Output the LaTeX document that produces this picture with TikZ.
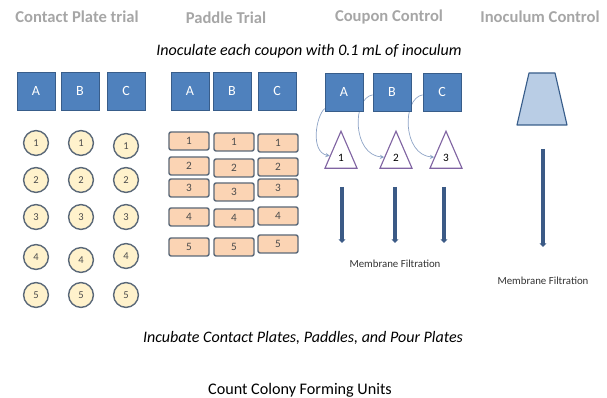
\documentclass[tikz,border=0pt]{standalone}
\usepackage{fontspec}
\setmainfont{Carlito}
\usetikzlibrary{shapes.geometric,arrows.meta,backgrounds}
\definecolor{sqfill}{HTML}{4F81BD}
\definecolor{sqline}{HTML}{385D8A}
\definecolor{platefill}{HTML}{FFF2CC}
\definecolor{paddlefill}{HTML}{FBD4B4}
\definecolor{rimline}{HTML}{5A6878}
\definecolor{triline}{HTML}{8064A2}
\definecolor{flowline}{HTML}{3B5A86}
\definecolor{curvline}{HTML}{8DA3C6}
\definecolor{trapfill}{HTML}{B9CDE5}
\definecolor{titlegray}{HTML}{A6A6A6}
\tikzset{
  title/.style={text=titlegray,font=\fontsize{11.8}{13}\selectfont\bfseries},
  note/.style={font=\fontsize{11.4}{13}\selectfont\itshape},
  sq/.style={draw=sqline,fill=sqfill,text=white,minimum size=0.95cm,inner sep=0pt,font=\fontsize{10}{12}\selectfont},
  plate/.style={draw=rimline,line width=1pt,circle,fill=platefill,minimum size=0.62cm,inner sep=0pt,text=black!70,font=\fontsize{7.5}{9}\selectfont},
  paddle/.style={draw=rimline,line width=1pt,rounded corners=1.5pt,fill=paddlefill,minimum width=1cm,minimum height=0.45cm,inner sep=0pt,text=black!70,font=\fontsize{8}{9}\selectfont},
  tri/.style={draw=triline,line width=0.8pt,isosceles triangle,isosceles triangle stretches,shape border rotate=90,minimum width=0.8cm,minimum height=0.925cm,inner sep=0pt,font=\fontsize{8}{9}\selectfont},
  flaskst/.style={draw=sqline,line width=0.8pt,fill=trapfill,line join=round},
  curv/.style={draw=curvline,line width=0.5pt,-{Stealth[length=3pt,width=3pt]}},
  flow/.style={draw=flowline,line width=2.6pt,-{Triangle[length=2.5pt,width=4.5pt]}},
  small/.style={font=\fontsize{7.7}{9}\selectfont,text=black!80}
}
\begin{document}
\begin{tikzpicture}[x=0.025cm,y=-0.025cm]
\useasboundingbox (0,0) rectangle (607,398);
% headings
\node[title](hcp)at(77,17){Contact Plate trial};
\node[title](hpd)at(226,18){Paddle Trial};
\node[title](hcc)at(389,17){Coupon Control};
\node[title](hic)at(540,17){Inoculum Control};
\node[note](inoc)at(309,51){Inoculate each coupon with 0.1 mL of inoculum};
% coupons
\node[sq](cpa)at(36,91){A};
\node[sq](cpb)at(80,91){B};
\node[sq](cpc)at(126,91){C};
\node[sq](pda)at(190,91){A};
\node[sq](pdb)at(232,91){B};
\node[sq](pdc)at(277,91){C};
\node[sq](cca)at(344,92){A};
\node[sq](ccb)at(392,92){B};
\node[sq](ccc)at(442,92){C};
% inoculum
\draw[flaskst](529,73)--(555,73)--(567,125)--(517,125)--cycle;
% contact plates
\node[plate](ca1)at(36,143){1};
\node[plate](cb1)at(81,143){1};
\node[plate](cc1)at(126,146){1};
\node[plate](ca2)at(36,180){2};
\node[plate](cb2)at(81,180){2};
\node[plate](cc2)at(126,180){2};
\node[plate](ca3)at(36,217){3};
\node[plate](cb3)at(81,217){3};
\node[plate](cc3)at(126,217){3};
\node[plate](ca4)at(36,257){4};
\node[plate](cb4)at(81,260){4};
\node[plate](cc4)at(126,256){4};
\node[plate](ca5)at(36,295){5};
\node[plate](cb5)at(81,295){5};
\node[plate](cc5)at(126,295){5};
% paddles
\node[paddle](pa1)at(189,141){1};
\node[paddle](pb1)at(234,142){1};
\node[paddle](pc1)at(278,143){1};
\node[paddle](pa2)at(189,166){2};
\node[paddle](pb2)at(234,168){2};
\node[paddle](pc2)at(278,167){2};
\node[paddle](pa3)at(189,188){3};
\node[paddle](pb3)at(234,192){3};
\node[paddle](pc3)at(278,188){3};
\node[paddle](pa4)at(189,217){4};
\node[paddle](pb4)at(234,218){4};
\node[paddle](pc4)at(278,216){4};
\node[paddle](pa5)at(189,247){5};
\node[paddle](pb5)at(234,247){5};
\node[paddle](pc5)at(278,244){5};
% pour plates
\node[tri](t1)at(341,158){1};
\node[tri](t2)at(396,158){2};
\node[tri](t3)at(446,158){3};
\begin{pgfonlayer}{background}
\draw[curv](cca) .. controls (316,116) and (310,152) .. (t1);
\draw[curv](ccb) .. controls (352,98) and (352,155) .. (t2);
\draw[curv](ccc) .. controls (402,98) and (402,155) .. (t3);
\end{pgfonlayer}
% filtration
\coordinate (f1s) at (342,187); \coordinate (f1e) at (342,243);
\coordinate (f2s) at (395,187); \coordinate (f2e) at (395,243);
\coordinate (f3s) at (444,187); \coordinate (f3e) at (444,243);
\coordinate (f4s) at (543,149); \coordinate (f4e) at (543,247);
\draw[flow](f1s)--(f1e);
\draw[flow](f2s)--(f2e);
\draw[flow](f3s)--(f3e);
\draw[flow](f4s)--(f4e);
\node[small](mf1)at(395,264){Membrane Filtration};
\node[small](mf2)at(543,281){Membrane Filtration};
\node[note](incu)at(303,338){Incubate Contact Plates, Paddles, and Pour Plates};
\node[font=\fontsize{11.5}{13}\selectfont](cfu)at(300,390){Count Colony Forming Units};
\end{tikzpicture}
\end{document}
